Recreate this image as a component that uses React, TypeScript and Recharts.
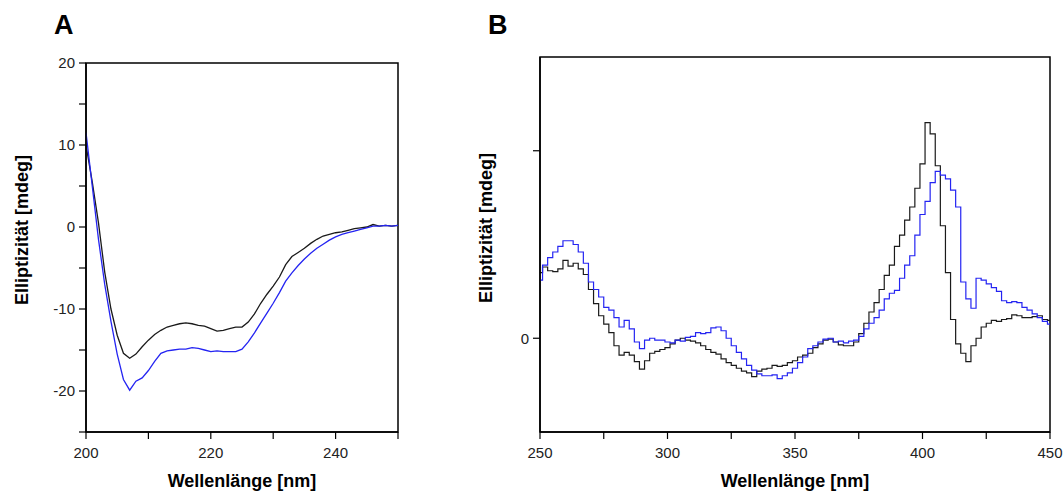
import React from 'react'
import { LineChart, Line, XAxis, YAxis, ReferenceArea } from 'recharts'

const FONT = '"Liberation Sans", Arial, Helvetica, sans-serif'
const BLACK = '#1a1a1a'
const BLUE = '#2424f2'

// Panel A: far-UV CD spectrum, 200-250 nm in 1 nm steps
const startA = 200
const stepA = 1
const blackA = [
  10.0, 5.5, 0.5, -5.5, -10.0, -13.2, -15.4, -16.0, -15.5, -14.6,
  -13.8, -13.1, -12.6, -12.2, -12.0, -11.8, -11.7, -11.8, -12.0, -12.1,
  -12.4, -12.7, -12.6, -12.4, -12.2, -12.2, -11.6, -10.6, -9.3, -8.2,
  -7.2, -6.1, -4.6, -3.6, -3.1, -2.6, -2.0, -1.5, -1.1, -0.9,
  -0.7, -0.6, -0.4, -0.2, -0.1, 0.0, 0.3, 0.1, 0.2, 0.1,
  0.2,
]
const blueA = [
  11.5, 5.0, -1.5, -7.0, -11.5, -15.5, -18.6, -19.9, -18.8, -18.4,
  -17.5, -16.4, -15.4, -15.1, -15.0, -14.9, -14.9, -14.7, -14.8, -15.0,
  -15.2, -15.1, -15.2, -15.2, -15.2, -14.9, -14.0, -12.9, -11.7, -10.5,
  -9.3, -8.0, -6.6, -5.6, -4.7, -3.9, -3.2, -2.6, -2.1, -1.6,
  -1.2, -0.9, -0.7, -0.5, -0.3, -0.1, 0.1, 0.1, 0.2, 0.1,
  0.2,
]
const ticksAX = [200, 210, 220, 230, 240, 250]
const labelsAX = [200, 220, 240]
const ticksAY = [-25, -20, -15, -10, -5, 0, 5, 10, 15, 20]
const labelsAY = [-20, -10, 0, 10, 20]

// Panel B: near-UV / visible CD spectrum, 250-450 nm in 2 nm steps
const startB = 250
const stepB = 2
const blackB = [
  3.5, 3.8, 3.6, 3.55, 3.7, 4.15, 3.85, 4.0, 3.7, 3.4,
  2.6, 1.85, 1.2, 0.75, 0.3, -0.4, -0.9, -0.75, -0.9, -1.25,
  -1.65, -1.2, -0.8, -0.7, -0.6, -0.5, -0.3, -0.1, 0.0, -0.1,
  -0.15, -0.25, -0.4, -0.6, -0.75, -0.85, -1.1, -1.3, -1.45, -1.6,
  -1.75, -1.85, -2.05, -1.75, -1.65, -1.6, -1.45, -1.5, -1.45, -1.3,
  -1.2, -1.0, -0.9, -0.8, -0.5, -0.3, -0.1, -0.05, -0.2, -0.35,
  -0.4, -0.4, -0.2, 0.25, 0.8, 1.4, 1.9, 2.6, 3.35, 3.9,
  4.9, 5.5, 6.3, 7.0, 8.0, 9.3, 11.5, 10.9, 9.2, 6.0,
  3.5, 1.0, -0.3, -0.8, -1.25, -0.4, 0.0, 0.6, 0.8, 0.95,
  0.9, 1.0, 1.05, 1.25, 1.2, 1.1, 1.1, 1.15, 1.2, 1.0,
  0.95,
]
const blueB = [
  3.1, 3.9, 4.3, 4.6, 4.9, 5.2, 5.2, 5.0, 4.6, 4.0,
  3.0, 2.6, 2.2, 1.65, 1.5, 1.1, 0.6, 0.95, 0.5, -0.2,
  -0.55, -0.1, 0.0, -0.1, -0.1, -0.2, -0.25, -0.1, -0.15, 0.05,
  0.1, 0.3, 0.25, 0.3, 0.55, 0.6, 0.4, 0.0, -0.4, -0.75,
  -1.1, -1.45, -1.7, -1.9, -2.0, -2.0, -1.95, -2.15, -2.0, -1.85,
  -1.6, -1.3, -1.0, -0.55, -0.4, -0.2, -0.05, 0.0, -0.2, -0.15,
  -0.25, -0.15, -0.1, 0.1, 0.5, 0.8, 1.1, 1.5, 2.1, 2.4,
  2.55, 3.2, 3.9, 4.4, 5.5, 6.6, 7.3, 8.3, 8.9, 8.7,
  8.5, 7.9, 7.0, 3.0, 2.1, 1.6, 3.2, 3.1, 2.9, 2.7,
  2.5, 2.0, 1.9, 1.95, 1.9, 1.65, 1.5, 1.3, 1.1, 0.9,
  0.75,
]
const ticksBX = [250, 275, 300, 325, 350, 375, 400, 425, 450]
const labelsBX = [250, 300, 350, 400, 450]
const ticksBY = [0, 10]
const labelsBY = [0]

const rowsA = blackA.map((v, i) => ({ nm: startA + i * stepA, black: v, blue: blueA[i] }))
const rowsB = blackB.map((v, i) => ({ nm: startB + i * stepB, black: v, blue: blueB[i] }))

const only = (shown: number[]) => (v: number) => (shown.includes(v) ? String(v) : '')

const tickStyle = { fill: '#222', fontSize: 15, fontFamily: FONT }
const axisLine = { stroke: '#000', strokeWidth: 1.5 }
const tickLine = { stroke: '#000', strokeWidth: 1.2 }

function PanelA() {
  return (
    <LineChart width={420} height={491} data={rowsA} margin={{ top: 63, right: 22, bottom: 29, left: 36 }}>
      <XAxis
        dataKey='nm'
        type='number'
        domain={[200, 250]}
        ticks={ticksAX}
        tickFormatter={only(labelsAX)}
        allowDataOverflow
        height={30}
        tickSize={7}
        tickMargin={8}
        tick={tickStyle}
        axisLine={axisLine}
        tickLine={tickLine}
      />
      <YAxis
        type='number'
        domain={[-25, 20]}
        ticks={ticksAY}
        tickFormatter={only(labelsAY)}
        allowDataOverflow
        width={50}
        tickSize={7}
        tickMargin={4}
        tick={tickStyle}
        axisLine={axisLine}
        tickLine={tickLine}
      />
      <ReferenceArea x1={200} x2={250} y1={-25} y2={20} fill='none' fillOpacity={0} stroke='#000' strokeWidth={1.5} />
      <Line type='linear' dataKey='black' stroke={BLACK} strokeWidth={1.3} dot={false} isAnimationActive={false} />
      <Line type='linear' dataKey='blue' stroke={BLUE} strokeWidth={1.3} dot={false} isAnimationActive={false} />
    </LineChart>
  )
}

function PanelB() {
  return (
    <LineChart width={623} height={491} data={rowsB} margin={{ top: 57, right: 13, bottom: 29, left: 50 }}>
      <XAxis
        dataKey='nm'
        type='number'
        domain={[250, 450]}
        ticks={ticksBX}
        tickFormatter={only(labelsBX)}
        allowDataOverflow
        height={30}
        tickSize={7}
        tickMargin={8}
        tick={tickStyle}
        axisLine={axisLine}
        tickLine={tickLine}
      />
      <YAxis
        type='number'
        domain={[-5, 15]}
        ticks={ticksBY}
        tickFormatter={only(labelsBY)}
        allowDataOverflow
        width={50}
        tickSize={7}
        tickMargin={4}
        tick={tickStyle}
        axisLine={axisLine}
        tickLine={tickLine}
      />
      <ReferenceArea x1={250} x2={450} y1={-5} y2={15} fill='none' fillOpacity={0} stroke='#000' strokeWidth={1.5} />
      <Line type='step' dataKey='black' stroke={BLACK} strokeWidth={1.2} dot={false} isAnimationActive={false} />
      <Line type='step' dataKey='blue' stroke={BLUE} strokeWidth={1.2} dot={false} isAnimationActive={false} />
    </LineChart>
  )
}

export default function App() {
  const title = { fontFamily: FONT, fontWeight: 700, fill: '#000' }
  return (
    <div style={{ position: 'absolute', left: 0, top: 0, width: 1063, height: 491, background: '#fff' }}>
      <div style={{ position: 'absolute', left: 0, top: 0 }}>
        <PanelA />
      </div>
      <div style={{ position: 'absolute', left: 440, top: 0 }}>
        <PanelB />
      </div>
      <svg width={1063} height={491} style={{ position: 'absolute', left: 0, top: 0, pointerEvents: 'none' }}>
        <text x={54} y={34} fontSize={27} {...title}>A</text>
        <text x={488} y={34} fontSize={27} {...title}>B</text>
        <text x={242} y={487} fontSize={18} textAnchor='middle' {...title}>Wellenlänge [nm]</text>
        <text x={795} y={487} fontSize={18} textAnchor='middle' {...title}>Wellenlänge [nm]</text>
        <text transform='translate(28,230) rotate(-90)' fontSize={18} textAnchor='middle' {...title}>Elliptizität [mdeg]</text>
        <text transform='translate(492,228) rotate(-90)' fontSize={18} textAnchor='middle' {...title}>Elliptizität [mdeg]</text>
      </svg>
    </div>
  )
}
